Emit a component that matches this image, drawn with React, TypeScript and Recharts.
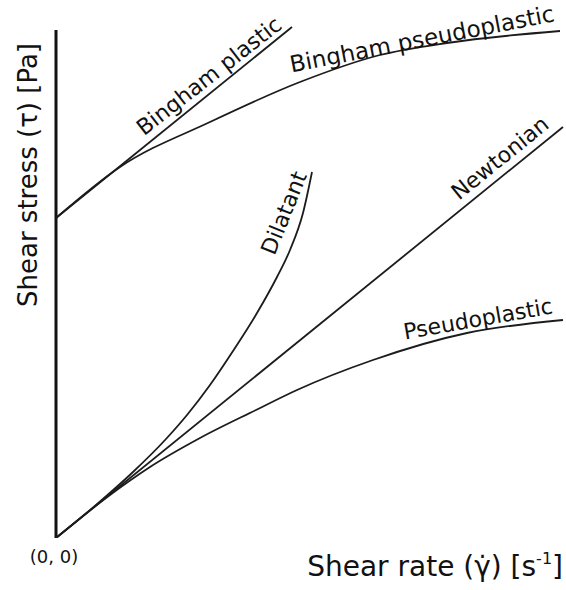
// Flow curves of different fluid types: shear stress vs shear rate
import { LineChart, Line, XAxis, YAxis, ReferenceLine, ReferenceDot } from 'recharts'

// =============================================================================
// Data (arbitrary units)
// =============================================================================

const newtonianX = [0, 507]
const newtonianY = [0, 411]

const binghamPlasticX = [0, 236]
const binghamPlasticY = [320, 511]

const binghamPseudoX = [0, 64, 154, 244, 324, 391, 504]
const binghamPseudoY = [320, 371, 416, 456, 483, 495, 507]

const dilatantX = [0, 40, 77, 110, 131, 154, 177, 201, 221, 234, 247, 256]
const dilatantY = [0, 33, 66, 99, 123, 153, 187, 225, 261, 288, 325, 366]

const pseudoplasticX = [0, 50, 94, 144, 200, 241, 317, 411, 507]
const pseudoplasticY = [0, 40, 71, 100, 128, 148, 178, 205, 218]

// curve labels: text, anchor point (data units), rotation
const labelText = ['Bingham plastic', 'Bingham pseudoplastic', 'Dilatant', 'Newtonian', 'Pseudoplastic']
const labelX = [153, 366, 228, 444, 422]
const labelY = [462, 499, 325, 380, 219]
const labelAngle = [-38, -11, -68, -39, -10]
const labelSize = [22, 23, 22, 22, 22]

// =============================================================================
// Constants
// =============================================================================

const WIDTH = 566
const HEIGHT = 590
const FONT = '"DejaVu Sans", Verdana, sans-serif'
const LINE_COLOR = '#1c1c1c'
const AXIS_COLOR = '#111'

const toPoints = (xs: number[], ys: number[]) => xs.map((x, i) => ({ x, y: ys[i] }))

const series = [
  { name: 'Newtonian', data: toPoints(newtonianX, newtonianY), type: 'linear' as const },
  { name: 'Bingham plastic', data: toPoints(binghamPlasticX, binghamPlasticY), type: 'linear' as const },
  { name: 'Bingham pseudoplastic', data: toPoints(binghamPseudoX, binghamPseudoY), type: 'monotone' as const },
  { name: 'Dilatant', data: toPoints(dilatantX, dilatantY), type: 'monotone' as const },
  { name: 'Pseudoplastic', data: toPoints(pseudoplasticX, pseudoplasticY), type: 'monotone' as const },
]

function CurveLabel({ cx, cy, text, angle, size }: { cx?: number; cy?: number; text: string; angle: number; size: number }) {
  if (cx == null || cy == null) return null
  return (
    <text
      x={cx}
      y={cy}
      transform={`rotate(${angle}, ${cx}, ${cy})`}
      textAnchor="middle"
      dominantBaseline="central"
      fontFamily={FONT}
      fontSize={size}
      fill="#111"
    >
      {text}
    </text>
  )
}

export default function App() {
  return (
    <div style={{ position: 'absolute', left: 0, top: 0, width: WIDTH, height: HEIGHT, background: '#fff' }}>
      <LineChart
        width={WIDTH}
        height={HEIGHT}
        margin={{ top: 22, right: 0, left: 56, bottom: 52 }}
      >
        <XAxis
          type="number"
          dataKey="x"
          domain={[0, 510]}
          allowDataOverflow
          height={0}
          tick={false}
          tickLine={false}
          axisLine={{ stroke: AXIS_COLOR, strokeWidth: 3 }}
        />
        <YAxis type="number" dataKey="y" domain={[0, 516]} allowDataOverflow hide />
        <ReferenceLine
          segment={[{ x: 0, y: 0 }, { x: 0, y: 508 }]}
          stroke={AXIS_COLOR}
          strokeWidth={3}
        />
        {series.map((s) => (
          <Line
            key={s.name}
            data={s.data}
            dataKey="y"
            type={s.type}
            stroke={LINE_COLOR}
            strokeWidth={1.8}
            dot={false}
            activeDot={false}
            isAnimationActive={false}
          />
        ))}
        {labelText.map((t, i) => (
          <ReferenceDot
            key={t}
            x={labelX[i]}
            y={labelY[i]}
            r={0}
            ifOverflow="visible"
            shape={(p: { cx?: number; cy?: number }) => (
              <CurveLabel cx={p.cx} cy={p.cy} text={t} angle={labelAngle[i]} size={labelSize[i]} />
            )}
          />
        ))}
      </LineChart>
      <svg
        width={WIDTH}
        height={HEIGHT}
        style={{ position: 'absolute', left: 0, top: 0, pointerEvents: 'none' }}
      >
        <text x={54} y={563} textAnchor="middle" fontFamily={FONT} fontSize={18} fill="#111">
          (0, 0)
        </text>
        <text x={563} y={576} textAnchor="end" fontFamily={FONT} fontSize={28} fill="#111">
          Shear rate (γ̇) [s
          <tspan fontSize={16} dy={-12}>-1</tspan>
          <tspan dy={12}>]</tspan>
        </text>
        <text
          x={37}
          y={175}
          transform="rotate(-90, 37, 175)"
          textAnchor="middle"
          fontFamily={FONT}
          fontSize={26}
          fill="#111"
        >
          Shear stress (τ) [Pa]
        </text>
      </svg>
    </div>
  )
}
